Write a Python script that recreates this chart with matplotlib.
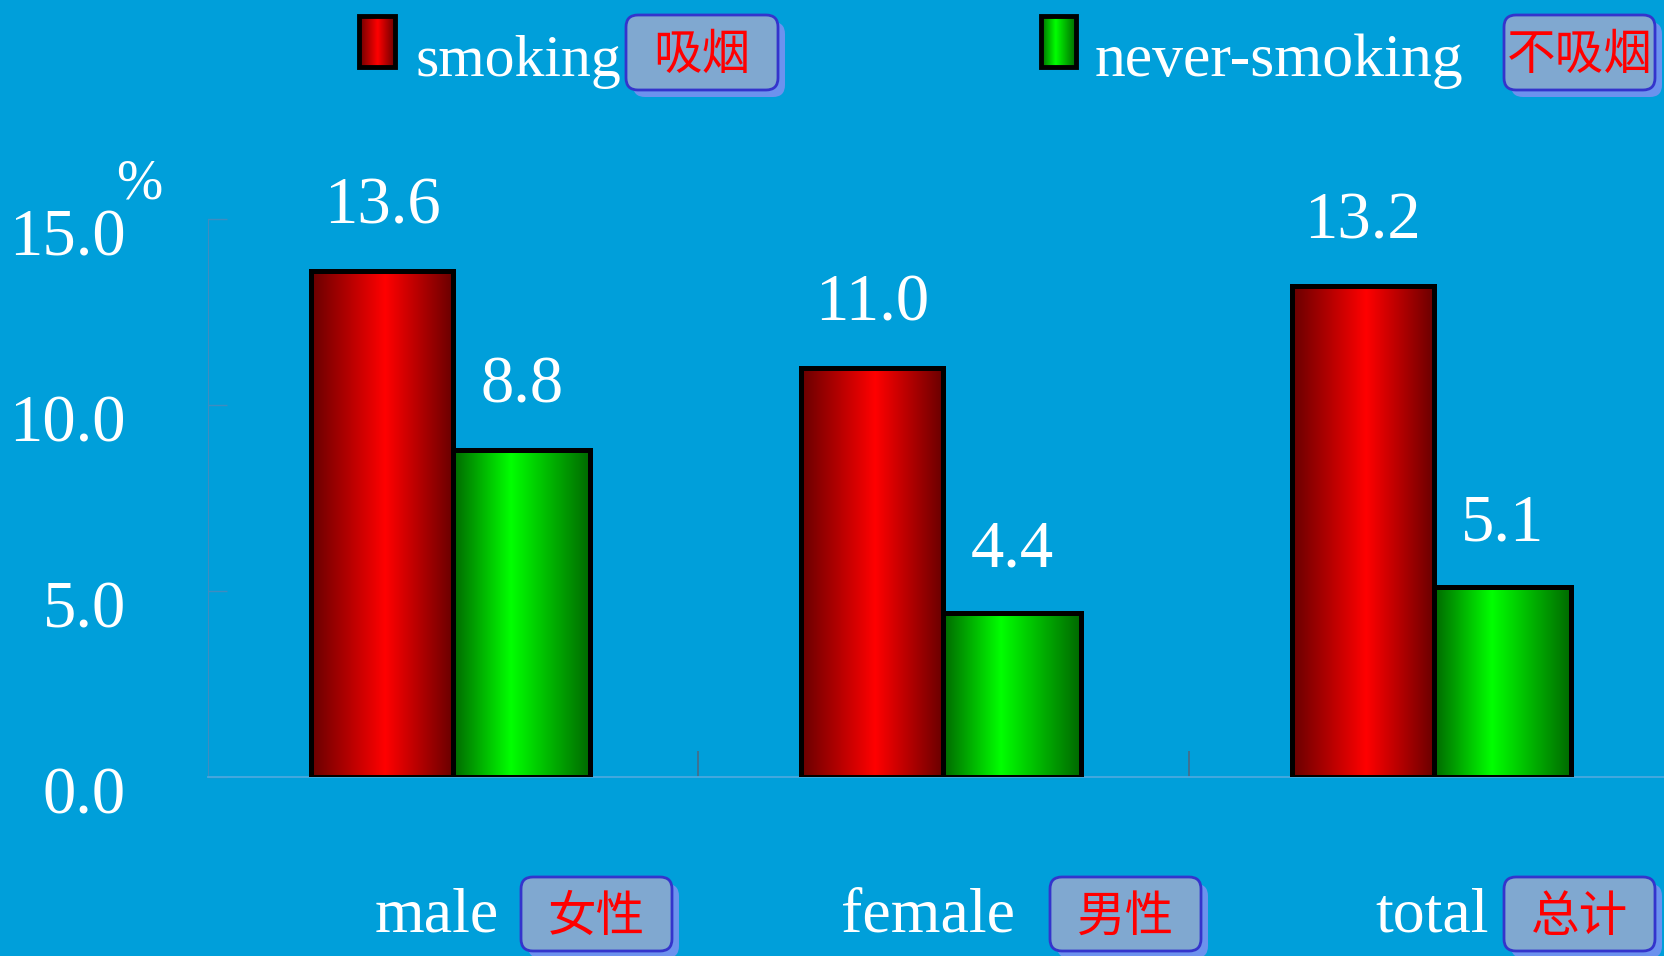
import numpy as np
import matplotlib
matplotlib.use("Agg")
import matplotlib.pyplot as plt
from matplotlib import transforms
from matplotlib.colors import LinearSegmentedColormap
from matplotlib.patches import FancyBboxPatch, Rectangle

# data
categories = ["male", "female", "total"]
categories_cn = ["女性", "男性", "总计"]
series_names = ["smoking", "never-smoking"]
series_cn = ["吸烟", "不吸烟"]
smoking = [13.6, 11.0, 13.2]
never_smoking = [8.8, 4.4, 5.1]
yticks = [0, 5, 10, 15]
ytick_labels = ["0.0", "5.0", "10.0", "15.0"]

W, H = 1664, 956
bg = "#009FDA"
serif = ["Liberation Serif", "DejaVu Serif"]
cjk = ["Noto Sans CJK SC", "DejaVu Sans"]
big = 48

fig = plt.figure(figsize=(W / 100, H / 100), dpi=100)
fig.patch.set_facecolor(bg)
ax = fig.add_axes([208 / W, 179 / H, 1 - 208 / W, 558 / H])
ax.set_facecolor(bg)

red_cmap = LinearSegmentedColormap.from_list("r", [(0, "#680000"), (0.52, "#FF0000"), (1, "#680000")])
green_cmap = LinearSegmentedColormap.from_list("g", [(0, "#006800"), (0.42, "#00FF00"), (1, "#006800")])
grad = np.linspace(0, 1, 256).reshape(1, -1)

x = np.arange(len(categories))
b1 = ax.bar(x + 0.21, smoking, width=0.29, align="edge", facecolor="none",
            edgecolor="black", linewidth=3.6, zorder=3)
b2 = ax.bar(x + 0.50, never_smoking, width=0.28, align="edge", facecolor="none",
            edgecolor="black", linewidth=3.6, zorder=3)

for bars, vals, cmap in ((b1, smoking, red_cmap), (b2, never_smoking, green_cmap)):
    for r, v in zip(bars, vals):
        x0, w, h = r.get_x(), r.get_width(), r.get_height()
        ax.imshow(grad, cmap=cmap, extent=[x0, x0 + w, 0, h], aspect="auto",
                  zorder=2, interpolation="bilinear")
        ax.annotate(f"{v:.1f}", xy=(x0 + w / 2, h), xytext=(0, 34), textcoords="offset points",
                    ha="center", va="baseline", fontsize=big, family=serif, color="white",
                    annotation_clip=False)

ax.set_xlim(0, 1456 / 490.3)
ax.set_ylim(0, 15)

for s in ["top", "right"]:
    ax.spines[s].set_visible(False)
ax.spines["left"].set_color("#3F8CC0")
ax.spines["bottom"].set_color("#4AA8DE")
ax.spines["bottom"].set_linewidth(1.3)

ax.set_yticks(yticks, ytick_labels, fontsize=big, family=serif, color="white", va="baseline")
ax.tick_params(axis="y", direction="in", length=14, width=1, color="#3F8CC0", pad=59)
shift = transforms.ScaledTranslation(0, -0.36, fig.dpi_scale_trans)
for lab in ax.get_yticklabels():
    lab.set_transform(lab.get_transform() + shift)

ax.set_xticks([])
ax.set_xticks([1, 2], minor=True)
ax.tick_params(axis="x", which="minor", direction="in", length=19, width=1.2,
               color="#4A6A85", labelbottom=False)

# overlay in pixel coords for legend and labels
ov = fig.add_axes([0, 0, 1, 1])
ov.set_xlim(0, W)
ov.set_ylim(H, 0)
ov.axis("off")
ov.set_zorder(5)


def cn_box(x0, y0, x1, y1, text):
    w, h = x1 - x0, y1 - y0
    ov.add_patch(FancyBboxPatch((x0 + 7, y0 + 7), w, h, boxstyle="round,pad=0,rounding_size=12",
                                fc="#6C92EE", ec="none", zorder=1))
    ov.add_patch(FancyBboxPatch((x0, y0), w, h, boxstyle="round,pad=0,rounding_size=12",
                                fc="#80A8D0", ec="#3434CC", lw=2, zorder=2))
    ov.text((x0 + x1) / 2, (y0 + y1) / 2 + 3, text, ha="center", va="center",
            fontsize=35, family=cjk, weight="medium", color="#FF0000", zorder=3)


def key(x0, x1, y0, y1, cmap):
    ov.imshow(grad, cmap=cmap, extent=[x0, x1, y1, y0], aspect="auto", zorder=2,
              interpolation="bilinear")
    ov.add_patch(Rectangle((x0, y0), x1 - x0, y1 - y0, fill=False, ec="black", lw=3.5, zorder=3))


key(359, 395, 16, 67, red_cmap)
key(1041, 1076, 16, 67, green_cmap)
ov.text(416, 76, series_names[0], ha="left", va="baseline", fontsize=43, family=serif, color="white")
ov.text(1095, 76, series_names[1], ha="left", va="baseline", fontsize=44.5, family=serif, color="white")
cn_box(626, 15, 778, 90, series_cn[0])
cn_box(1504, 15, 1655, 90, series_cn[1])

cat_text_x = [437, 928, 1432]
cat_box_x = [521, 1050, 1504]
for name, cn, tx, bx in zip(categories, categories_cn, cat_text_x, cat_box_x):
    ov.text(tx, 931, name, ha="center", va="baseline", fontsize=46, family=serif, color="white")
    cn_box(bx, 877, bx + 151, 951, cn)

ov.text(139, 198, "%", ha="center", va="baseline", fontsize=40, family=serif, color="white")

ov.set_xlim(0, W)
ov.set_ylim(H, 0)

fig.savefig("out.png", dpi=100, facecolor=bg)
